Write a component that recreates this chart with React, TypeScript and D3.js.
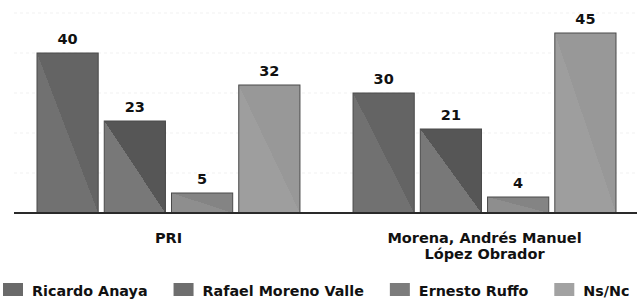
import { useEffect, useRef } from "react";
import * as d3 from "d3";

const GROUPS = ["PRI", "Morena, Andrés Manuel|López Obrador"];
const CANDIDATES = ["Ricardo Anaya", "Rafael Moreno Valle", "Ernesto Ruffo", "Ns/Nc"];
const PRI_VALUES = [40, 23, 5, 32];
const MORENA_VALUES = [30, 21, 4, 45];
const GRID_TICKS = [10, 20, 30, 40, 50];

const FILLS = [
  ["#646464", "#717171"],
  ["#565656", "#787878"],
  ["#848484", "#8e8e8e"],
  ["#989898", "#9e9e9e"],
];
const SWATCH = ["#6a6a6a", "#6e6e6e", "#7c7c7c", "#a2a2a2"];

const FONT = "'DejaVu Sans', sans-serif";

export default function App() {
  const svgRef = useRef<SVGSVGElement>(null);

  useEffect(() => {
    document.body.style.margin = "0";
    if (!svgRef.current) return;
    const svg = d3.select(svgRef.current);
    svg.selectAll("*").remove();

    const W = 637, H = 299;
    const baseY = 213;
    svg.attr("width", W).attr("height", H);

    const rows = [PRI_VALUES, MORENA_VALUES];

    const x0 = d3.scaleBand<string>().domain(GROUPS).range([37, 616]).paddingInner(0.168).paddingOuter(0);
    const x1 = d3.scaleBand<string>().domain(CANDIDATES).range([0, x0.bandwidth()]).paddingInner(0.09).paddingOuter(0);
    const y = d3.scaleLinear().domain([0, 50]).range([baseY, baseY - 200]);

    const defs = svg.append("defs");
    FILLS.forEach(([dark, light], i) => {
      const gr = defs.append("linearGradient").attr("id", `g${i}`)
        .attr("x1", 1).attr("y1", 0).attr("x2", 0).attr("y2", 1);
      gr.append("stop").attr("offset", "0%").attr("stop-color", dark);
      gr.append("stop").attr("offset", "50%").attr("stop-color", dark);
      gr.append("stop").attr("offset", "50%").attr("stop-color", light);
      gr.append("stop").attr("offset", "100%").attr("stop-color", light);
    });

    // faint grid (barely visible in the scan)
    svg.selectAll(".grid").data(GRID_TICKS).enter().append("line")
      .attr("x1", 14).attr("x2", W)
      .attr("y1", (d) => y(d)).attr("y2", (d) => y(d))
      .attr("stroke", "#f1f1f1").attr("stroke-dasharray", "3 3");

    GROUPS.forEach((grp, gi) => {
      const g = svg.append("g").attr("transform", `translate(${x0(grp)},0)`);
      rows[gi].forEach((v, ci) => {
        const c = CANDIDATES[ci];
        g.append("rect")
          .attr("x", x1(c)!).attr("y", y(v))
          .attr("width", x1.bandwidth()).attr("height", baseY - y(v))
          .attr("fill", `url(#g${ci})`)
          .attr("stroke", "#4a4a4a").attr("stroke-width", 1);
        g.append("text")
          .attr("x", x1(c)! + x1.bandwidth() / 2).attr("y", y(v) - 9)
          .attr("text-anchor", "middle").attr("font-family", FONT)
          .attr("font-weight", "bold").attr("font-size", 14.5).attr("fill", "#111")
          .text(v);
      });
      const lines = grp.split("|");
      const t = svg.append("text")
        .attr("x", x0(grp)! + x0.bandwidth() / 2).attr("y", 243)
        .attr("text-anchor", "middle").attr("font-family", FONT)
        .attr("font-weight", "bold").attr("font-size", 14.5).attr("fill", "#111");
      lines.forEach((l, li) => {
        t.append("tspan").attr("x", x0(grp)! + x0.bandwidth() / 2).attr("dy", li === 0 ? 0 : 16).text(l);
      });
    });

    // baseline
    svg.append("line")
      .attr("x1", 14).attr("x2", W).attr("y1", baseY).attr("y2", baseY)
      .attr("stroke", "#2a2a2a").attr("stroke-width", 2);

    // legend
    const leg = svg.append("g");
    let cx = 3;
    CANDIDATES.forEach((c, i) => {
      leg.append("rect").attr("x", cx).attr("y", 283).attr("width", 20).attr("height", 13)
        .attr("fill", SWATCH[i]);
      const txt = leg.append("text").attr("x", cx + 29).attr("y", 296)
        .attr("font-family", FONT).attr("font-weight", "bold").attr("font-size", 14.3)
        .attr("fill", "#111").text(c);
      const w = (txt.node() as SVGTextElement).getComputedTextLength();
      cx = cx + 29 + w + 26;
    });
  }, []);

  return <svg ref={svgRef} style={{ display: "block" }} />;
}
